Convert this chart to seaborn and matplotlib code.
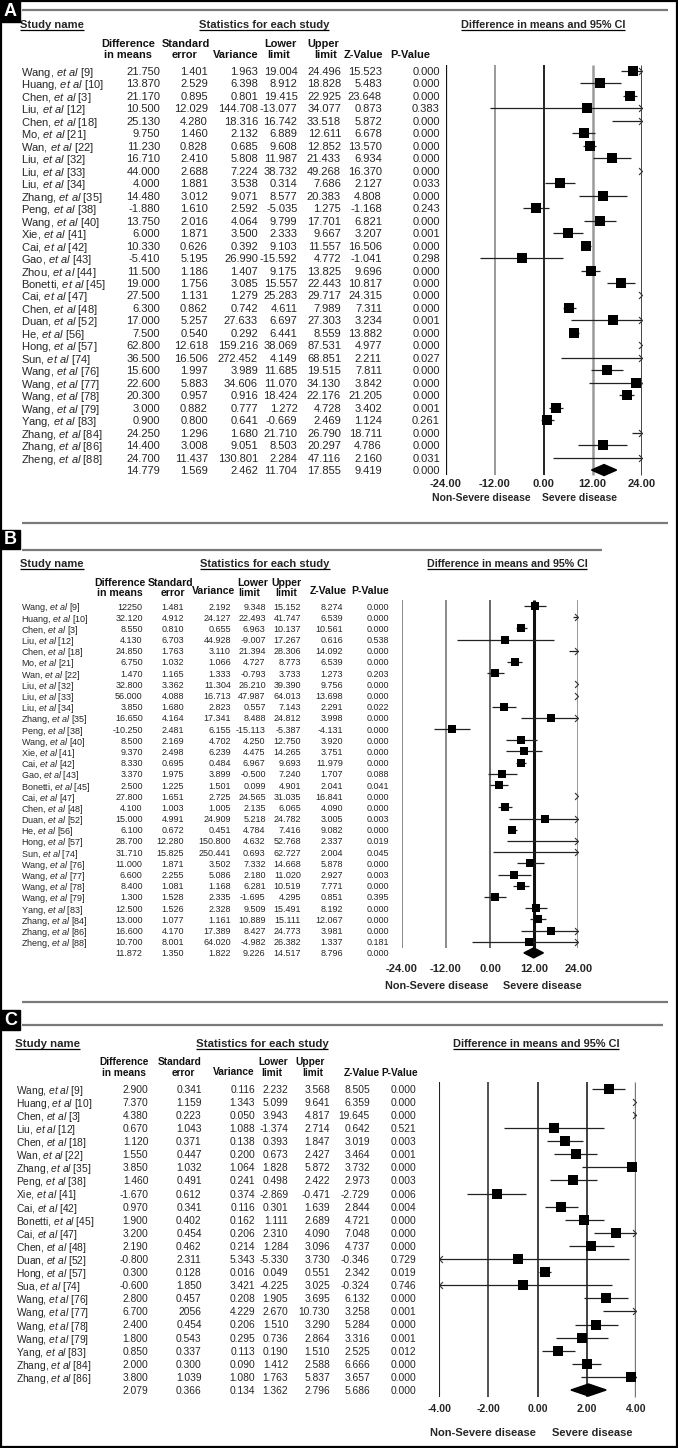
import numpy as np
import pandas as pd
import matplotlib
matplotlib.use("Agg")
import matplotlib.pyplot as plt
import seaborn as sns
from matplotlib.path import Path
from matplotlib.patches import Rectangle

# ---------------- data : panel A ----------------
A_author = ["Wang", "Huang", "Chen", "Liu", "Chen", "Mo", "Wan", "Liu", "Liu", "Liu", "Zhang", "Peng",
            "Wang", "Xie", "Cai", "Gao", "Zhou", "Bonetti", "Cai", "Chen", "Duan", "He", "Hong", "Sun",
            "Wang", "Wang", "Wang", "Wang", "Yang", "Zhang", "Zhang", "Zheng"]
A_ref = [9, 10, 3, 12, 18, 21, 22, 32, 33, 34, 35, 38, 40, 41, 42, 43, 44, 45, 47, 48, 52, 56, 57, 74,
         76, 77, 78, 79, 83, 84, 86, 88]
A_diff = [21.750, 13.870, 21.170, 10.500, 25.130, 9.750, 11.230, 16.710, 44.000, 4.000, 14.480, -1.880,
          13.750, 6.000, 10.330, -5.410, 11.500, 19.000, 27.500, 6.300, 17.000, 7.500, 62.800, 36.500,
          15.600, 22.600, 20.300, 3.000, 0.900, 24.250, 14.400, 24.700]
A_se = [1.401, 2.529, 0.895, 12.029, 4.280, 1.460, 0.828, 2.410, 2.688, 1.881, 3.012, 1.610,
        2.016, 1.871, 0.626, 5.195, 1.186, 1.756, 1.131, 0.862, 5.257, 0.540, 12.618, 16.506,
        1.997, 5.883, 0.957, 0.882, 0.800, 1.296, 3.008, 11.437]
A_var = [1.963, 6.398, 0.801, 144.708, 18.316, 2.132, 0.685, 5.808, 7.224, 3.538, 9.071, 2.592,
         4.064, 3.500, 0.392, 26.990, 1.407, 3.085, 1.279, 0.742, 27.633, 0.292, 159.216, 272.452,
         3.989, 34.606, 0.916, 0.777, 0.641, 1.680, 9.051, 130.801]
A_lower = [19.004, 8.912, 19.415, -13.077, 16.742, 6.889, 9.608, 11.987, 38.732, 0.314, 8.577, -5.035,
           9.799, 2.333, 9.103, -15.592, 9.175, 15.557, 25.283, 4.611, 6.697, 6.441, 38.069, 4.149,
           11.685, 11.070, 18.424, 1.272, -0.669, 21.710, 8.503, 2.284]
A_upper = [24.496, 18.828, 22.925, 34.077, 33.518, 12.611, 12.852, 21.433, 49.268, 7.686, 20.383, 1.275,
           17.701, 9.667, 11.557, 4.772, 13.825, 22.443, 29.717, 7.989, 27.303, 8.559, 87.531, 68.851,
           19.515, 34.130, 22.176, 4.728, 2.469, 26.790, 20.297, 47.116]
A_z = [15.523, 5.483, 23.648, 0.873, 5.872, 6.678, 13.570, 6.934, 16.370, 2.127, 4.808, -1.168,
       6.821, 3.207, 16.506, -1.041, 9.696, 10.817, 24.315, 7.311, 3.234, 13.882, 4.977, 2.211,
       7.811, 3.842, 21.205, 3.402, 1.124, 18.711, 4.786, 2.160]
A_p = [0.000, 0.000, 0.000, 0.383, 0.000, 0.000, 0.000, 0.000, 0.000, 0.033, 0.000, 0.243,
       0.000, 0.001, 0.000, 0.298, 0.000, 0.000, 0.000, 0.000, 0.001, 0.000, 0.000, 0.027,
       0.000, 0.000, 0.000, 0.001, 0.261, 0.000, 0.000, 0.031]
A_summary = [14.779, 1.569, 2.462, 11.704, 17.855, 9.419, 0.000]

# ---------------- data : panel B ----------------
B_author = ["Wang", "Huang", "Chen", "Liu", "Chen", "Mo", "Wan", "Liu", "Liu", "Liu", "Zhang", "Peng",
            "Wang", "Xie", "Cai", "Gao", "Bonetti", "Cai", "Chen", "Duan", "He", "Hong", "Sun",
            "Wang", "Wang", "Wang", "Wang", "Yang", "Zhang", "Zhang", "Zheng"]
B_ref = [9, 10, 3, 12, 18, 21, 22, 32, 33, 34, 35, 38, 40, 41, 42, 43, 45, 47, 48, 52, 56, 57, 74,
         76, 77, 78, 79, 83, 84, 86, 88]
B_diff = [12.250, 32.120, 8.550, 4.130, 24.850, 6.750, 1.470, 32.800, 56.000, 3.850, 16.650, -10.250,
          8.500, 9.370, 8.330, 3.370, 2.500, 27.800, 4.100, 15.000, 6.100, 28.700, 31.710,
          11.000, 6.600, 8.400, 1.300, 12.500, 13.000, 16.600, 10.700]
B_se = [1.481, 4.912, 0.810, 6.703, 1.763, 1.032, 1.165, 3.362, 4.088, 1.680, 4.164, 2.481,
        2.169, 2.498, 0.695, 1.975, 1.225, 1.651, 1.003, 4.991, 0.672, 12.280, 15.825,
        1.871, 2.255, 1.081, 1.528, 1.526, 1.077, 4.170, 8.001]
B_var = [2.192, 24.127, 0.655, 44.928, 3.110, 1.066, 1.333, 11.304, 16.713, 2.823, 17.341, 6.155,
         4.702, 6.239, 0.484, 3.899, 1.501, 2.725, 1.005, 24.909, 0.451, 150.800, 250.441,
         3.502, 5.086, 1.168, 2.335, 2.328, 1.161, 17.389, 64.020]
B_lower = [9.348, 22.493, 6.963, -9.007, 21.394, 4.727, -0.793, 26.210, 47.987, 0.557, 8.488, -15.113,
           4.250, 4.475, 6.967, -0.500, 0.099, 24.565, 2.135, 5.218, 4.784, 4.632, 0.693,
           7.332, 2.180, 6.281, -1.695, 9.509, 10.889, 8.427, -4.982]
B_upper = [15.152, 41.747, 10.137, 17.267, 28.306, 8.773, 3.733, 39.390, 64.013, 7.143, 24.812, -5.387,
           12.750, 14.265, 9.693, 7.240, 4.901, 31.035, 6.065, 24.782, 7.416, 52.768, 62.727,
           14.668, 11.020, 10.519, 4.295, 15.491, 15.111, 24.773, 26.382]
B_z = [8.274, 6.539, 10.561, 0.616, 14.092, 6.539, 1.273, 9.756, 13.698, 2.291, 3.998, -4.131,
       3.920, 3.751, 11.979, 1.707, 2.041, 16.841, 4.090, 3.005, 9.082, 2.337, 2.004,
       5.878, 2.927, 7.771, 0.851, 8.192, 12.067, 3.981, 1.337]
B_p = [0.000, 0.000, 0.000, 0.538, 0.000, 0.000, 0.203, 0.000, 0.000, 0.022, 0.000, 0.000,
       0.000, 0.000, 0.000, 0.088, 0.041, 0.000, 0.000, 0.003, 0.000, 0.019, 0.045,
       0.000, 0.003, 0.000, 0.395, 0.000, 0.000, 0.000, 0.181]
B_summary = [11.872, 1.350, 1.822, 9.226, 14.517, 8.796, 0.000]
B_text_override = {("diff", 0): "12250"}

# ---------------- data : panel C ----------------
C_author = ["Wang", "Huang", "Chen", "Liu", "Chen", "Wan", "Zhang", "Peng", "Xie", "Cai", "Bonetti",
            "Cai", "Chen", "Duan", "Hong", "Sua", "Wang", "Wang", "Wang", "Wang", "Yang", "Zhang", "Zhang"]
C_ref = [9, 10, 3, 12, 18, 22, 35, 38, 41, 42, 45, 47, 48, 52, 57, 74, 76, 77, 78, 79, 83, 84, 86]
C_diff = [2.900, 7.370, 4.380, 0.670, 1.120, 1.550, 3.850, 1.460, -1.670, 0.970, 1.900,
          3.200, 2.190, -0.800, 0.300, -0.600, 2.800, 6.700, 2.400, 1.800, 0.850, 2.000, 3.800]
C_se = [0.341, 1.159, 0.223, 1.043, 0.371, 0.447, 1.032, 0.491, 0.612, 0.341, 0.402,
        0.454, 0.462, 2.311, 0.128, 1.850, 0.457, 2.056, 0.454, 0.543, 0.337, 0.300, 1.039]
C_var = [0.116, 1.343, 0.050, 1.088, 0.138, 0.200, 1.064, 0.241, 0.374, 0.116, 0.162,
         0.206, 0.214, 5.343, 0.016, 3.421, 0.208, 4.229, 0.206, 0.295, 0.113, 0.090, 1.080]
C_lower = [2.232, 5.099, 3.943, -1.374, 0.393, 0.673, 1.828, 0.498, -2.869, 0.301, 1.111,
           2.310, 1.284, -5.330, 0.049, -4.225, 1.905, 2.670, 1.510, 0.736, 0.190, 1.412, 1.763]
C_upper = [3.568, 9.641, 4.817, 2.714, 1.847, 2.427, 5.872, 2.422, -0.471, 1.639, 2.689,
           4.090, 3.096, 3.730, 0.551, 3.025, 3.695, 10.730, 3.290, 2.864, 1.510, 2.588, 5.837]
C_z = [8.505, 6.359, 19.645, 0.642, 3.019, 3.464, 3.732, 2.973, -2.729, 2.844, 4.721,
       7.048, 4.737, -0.346, 2.342, -0.324, 6.132, 3.258, 5.284, 3.316, 2.525, 6.666, 3.657]
C_p = [0.000, 0.000, 0.000, 0.521, 0.003, 0.001, 0.000, 0.003, 0.006, 0.004, 0.000,
       0.000, 0.000, 0.729, 0.019, 0.746, 0.000, 0.001, 0.000, 0.001, 0.012, 0.000, 0.000]
C_summary = [2.079, 0.366, 0.134, 1.362, 2.796, 5.686, 0.000]
C_text_override = {("se", 17): "2056"}

AXIS_LEFT_LABEL = "Non-Severe disease"
AXIS_RIGHT_LABEL = "Severe disease"
TITLE_NAME = "Study name"
TITLE_STATS = "Statistics for each study"
TITLE_CI = "Difference in means and 95% CI"

# ---------------- layout (pixels) ----------------
W, H = 678, 1448

LAYOUTS = {
    "A": dict(box=(0, 0, 20, 22), seps=[(10, 22, 668)], title_y=24, name_x=21, stat_cx=264, ci_cx=543,
              hdr=[("Difference", 128, 43), ("in means", 128, 54.5), ("Standard", 186, 43), ("error", 185, 54.5),
                   ("Variance", 236, 54), ("Lower", 280, 43), ("limit", 279, 54.5), ("Upper", 323, 43),
                   ("limit", 326, 54.5), ("Z-Value", 363, 54), ("P-Value", 410, 54)],
              col_x=[160, 208, 258, 297.5, 341, 382, 440], y0=71, dy=12.47, fs=8.0, hfs=7.9, tfs=8.1,
              xpx=(445.7, 641.7), ticks=[-24, -12, 0, 12, 24], vy=(65, 475), fy=(55, 485),
              vcol=['#111111', '#9a9a9a', '#111111', '#9a9a9a', '#333333'], vlw=[1.6, 1.4, 1.3, 1.8, 2.0],
              tick_y=483, lab_y=497, lab_cx=(481, 580), msize=44, dh=5.5, tickfs=8, labfs=7.5),
    "B": dict(box=(0, 530, 20, 19), seps=[(523, 22, 668), (550, 22, 602)], title_y=563, name_x=21,
              stat_cx=265, ci_cx=507,
              hdr=[("Difference", 120, 582), ("in means", 120, 592), ("Standard", 170.5, 582), ("error", 172.7, 592),
                   ("Variance", 214, 590), ("Lower", 253, 582), ("limit", 249, 592), ("Upper", 286, 582),
                   ("limit", 286, 592), ("Z-Value", 328, 590), ("P-Value", 370, 590)],
              col_x=[142.7, 184.3, 231, 265.7, 301, 343.3, 389], y0=606, dy=11.19, fs=6.5, hfs=7.6, tfs=8.0,
              xpx=(401.7, 578.3), ticks=[-24, -12, 0, 12, 24], vy=(600, 948), fy=(590, 960),
              vcol=['#8a8a8a', '#8a8a8a', '#666666', '#111111', '#999999'], vlw=[1.4, 1.4, 1.4, 2.2, 1.4],
              tick_y=968, lab_y=985, lab_cx=(437, 542), msize=36, dh=5.0, tickfs=8, labfs=7.8),
    "C": dict(box=(0, 1010, 20, 20), seps=[(1002, 22, 668), (1025, 22, 663)], title_y=1043, name_x=16,
              stat_cx=262, ci_cx=536,
              hdr=[("Difference", 124, 1061), ("in means", 124, 1072), ("Standard", 180, 1061), ("error", 183, 1072),
                   ("Variance", 234, 1071), ("Lower", 273, 1061), ("limit", 272, 1072), ("Upper", 310, 1061),
                   ("limit", 313, 1072), ("Z-Value", 362, 1072), ("P-Value", 400, 1072)],
              col_x=[148.3, 201.7, 255, 288.3, 330, 370, 416], y0=1088.7, dy=13.1, fs=7.4, hfs=7.3, tfs=8.2,
              xpx=(439.3, 635.7), ticks=[-4, -2, 0, 2, 4], vy=(1082, 1397), fy=(1075, 1402),
              vcol=['#222222', '#444444', '#333333', '#333333', '#777777'], vlw=[1.5, 1.3, 1.3, 1.3, 2.4],
              tick_y=1408, lab_y=1432, lab_cx=(482.5, 592.5), msize=48, dh=6.0, tickfs=7.6, labfs=8),
}

PANELS = {
    "A": (A_author, A_ref, A_diff, A_se, A_var, A_lower, A_upper, A_z, A_p, A_summary, {}),
    "B": (B_author, B_ref, B_diff, B_se, B_var, B_lower, B_upper, B_z, B_p, B_summary, B_text_override),
    "C": (C_author, C_ref, C_diff, C_se, C_var, C_lower, C_upper, C_z, C_p, C_summary, C_text_override),
}

# ---------------- style ----------------
sns.set_style("white")
plt.rcParams['font.family'] = ['Liberation Sans', 'DejaVu Sans']
plt.rcParams['mathtext.fontset'] = 'custom'
plt.rcParams['mathtext.rm'] = 'Liberation Sans'
plt.rcParams['mathtext.it'] = 'Liberation Sans:italic'
plt.rcParams['mathtext.bf'] = 'Liberation Sans:bold'

fig = plt.figure(figsize=(W / 100, H / 100), dpi=100)
canvas = fig.add_axes([0, 0, 1, 1])
canvas.set_xlim(0, W)
canvas.set_ylim(H, 0)
canvas.axis('off')

RIGHT_CHEV = Path([(-1.0, 1.0), (0.0, 0.0), (-1.0, -1.0)], [Path.MOVETO, Path.LINETO, Path.LINETO])
LEFT_CHEV = Path([(1.0, 1.0), (0.0, 0.0), (1.0, -1.0)], [Path.MOVETO, Path.LINETO, Path.LINETO])

underline = []
cols = ["diff", "se", "var", "lower", "upper", "z", "p"]

for key, lay in LAYOUTS.items():
    author, ref, diff, se, var, lower, upper, z, p, summ, override = PANELS[key]
    n = len(author)
    rows = lay['y0'] + lay['dy'] * np.arange(n)
    y_sum = lay['y0'] + lay['dy'] * n

    # panel letter box and separator lines
    bx, by, bw, bh = lay['box']
    canvas.add_patch(Rectangle((bx, by), bw, bh, color='black', zorder=5))
    canvas.text(bx + bw / 2 + 0.5, by + bh / 2 + 0.5, key, color='white', fontsize=13, fontweight='bold',
                ha='center', va='center', zorder=6)
    for (sy, sx0, sx1) in lay['seps']:
        canvas.plot([sx0, sx1], [sy, sy], color='#7a7a7a', lw=1.6, solid_capstyle='butt')

    # titles
    underline.append(canvas.text(lay['name_x'] - 1, lay['title_y'], TITLE_NAME, fontsize=lay['tfs'],
                                 fontweight='bold', ha='left', va='center_baseline'))
    underline.append(canvas.text(lay['stat_cx'], lay['title_y'], TITLE_STATS, fontsize=lay['tfs'],
                                 fontweight='bold', ha='center', va='center_baseline'))
    underline.append(canvas.text(lay['ci_cx'], lay['title_y'], TITLE_CI, fontsize=lay['tfs'] - 0.3,
                                 fontweight='bold', ha='center', va='center_baseline'))
    for (txt, hx, hy) in lay['hdr']:
        canvas.text(hx, hy, txt, fontsize=lay['hfs'], fontweight='bold', ha='center', va='center_baseline',
                    color='#111111')

    # table rows
    table = pd.DataFrame({"diff": diff, "se": se, "var": var, "lower": lower, "upper": upper, "z": z, "p": p})
    for i in range(n):
        canvas.text(lay['name_x'], rows[i], f"{author[i]}, $\\mathit{{et\\ al}}$ [{ref[i]}]",
                    fontsize=lay['fs'], ha='left', va='center_baseline')
        for c, cx in zip(cols, lay['col_x']):
            s = override.get((c, i), f"{table[c].iloc[i]:.3f}")
            canvas.text(cx, rows[i], s, fontsize=lay['fs'], ha='right', va='center_baseline')
    for v, cx in zip(summ, lay['col_x']):
        canvas.text(cx, y_sum, f"{v:.3f}", fontsize=lay['fs'], ha='right', va='center_baseline')

    # forest axes (x in data units, y in pixel rows)
    x0p, x1p = lay['xpx']
    ft, fb = lay['fy']
    ax = fig.add_axes([x0p / W, 1 - fb / H, (x1p - x0p) / W, (fb - ft) / H])
    ax.patch.set_alpha(0)
    xmin, xmax = lay['ticks'][0], lay['ticks'][-1]
    ax.set_xlim(xmin, xmax)
    ax.set_ylim(fb, ft)
    ax.axis('off')

    ax.vlines(lay['ticks'], lay['vy'][0], lay['vy'][1], colors=lay['vcol'], linewidths=lay['vlw'], zorder=1)

    for i in range(n):
        lo, hi = lower[i], upper[i]
        s_lo, s_hi = max(lo, xmin), min(hi, xmax)
        if s_hi > s_lo:
            ax.plot([s_lo, s_hi], [rows[i], rows[i]], color='#222222', lw=0.9, zorder=2, clip_on=False,
                    solid_capstyle='butt')
        if hi > xmax:
            ax.plot([xmax], [rows[i]], marker=RIGHT_CHEV, ms=5, mew=0.8, mfc='none', color='#333333',
                    zorder=2, clip_on=False)
        if lo < xmin:
            ax.plot([xmin], [rows[i]], marker=LEFT_CHEV, ms=5, mew=0.8, mfc='none', color='#333333',
                    zorder=2, clip_on=False)

    pts = pd.DataFrame({"diff": diff, "row": rows})
    pts = pts[(pts["diff"] >= xmin) & (pts["diff"] <= xmax)]
    sns.scatterplot(data=pts, x="diff", y="row", marker='s', s=lay['msize'], color='black', linewidth=0,
                    ax=ax, legend=False, zorder=3)
    ax.collections[-1].set_clip_on(False)
    ax.set_xlim(xmin, xmax)
    ax.set_ylim(fb, ft)
    ax.axis('off')

    # summary diamond
    est, lo_s, hi_s = summ[0], summ[3], summ[4]
    ax.fill([lo_s, est, hi_s, est], [y_sum, y_sum - lay['dh'], y_sum, y_sum + lay['dh']], color='black',
            zorder=3, clip_on=False)

    # tick labels and side labels
    for t in lay['ticks']:
        ax.text(t, lay['tick_y'], f"{t:.2f}", fontsize=lay['tickfs'], fontweight='bold', ha='center',
                va='center_baseline', clip_on=False)
    canvas.text(lay['lab_cx'][0], lay['lab_y'], AXIS_LEFT_LABEL, fontsize=lay['labfs'], fontweight='bold',
                ha='center', va='center_baseline')
    canvas.text(lay['lab_cx'][1], lay['lab_y'], AXIS_RIGHT_LABEL, fontsize=lay['labfs'], fontweight='bold',
                ha='center', va='center_baseline')

# outer frame
canvas.add_patch(Rectangle((1, 1), W - 2.5, H - 2.5, fill=False, edgecolor='black', lw=1.6, zorder=7))

# underline titles
fig.canvas.draw()
renderer = fig.canvas.get_renderer()
for t in underline:
    bb = t.get_window_extent(renderer)
    yline = H - bb.y0 + 0.3
    canvas.plot([bb.x0, bb.x1], [yline, yline], color='black', lw=0.9, solid_capstyle='butt')

fig.savefig("out.png", dpi=100)
